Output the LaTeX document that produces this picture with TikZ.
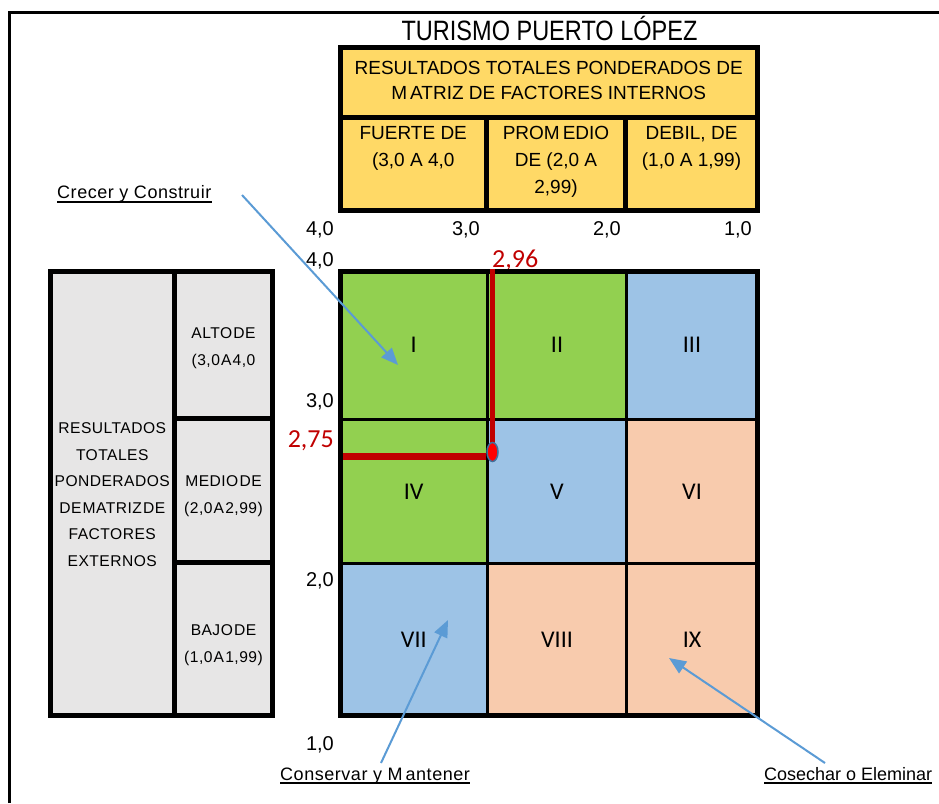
\documentclass[tikz,border=0pt]{standalone}
\usepackage{fontspec}
\setmainfont{Liberation Sans}
\newfontfamily\narrowfont[FakeStretch=0.84]{Liberation Sans}
\newfontfamily\spacedfont[LetterSpace=3]{Liberation Sans}
\newfontfamily\calfont{Carlito}
\usetikzlibrary{arrows.meta,shapes.geometric}
\definecolor{cgreen}{HTML}{92D050}
\definecolor{cblue}{HTML}{9DC3E6}
\definecolor{cpeach}{HTML}{F8CBAD}
\definecolor{cyellow}{HTML}{FFD966}
\definecolor{cgrey}{HTML}{E7E6E6}
\definecolor{cred}{HTML}{C00000}
\definecolor{carrow}{HTML}{5B9BD5}
\definecolor{cedge}{HTML}{41719C}
\newcommand\tsp{\kern3pt}
\newcommand\tsq{\kern1.2pt}
\begin{document}
\begin{tikzpicture}[x=1pt,y=-1pt,
  thickline/.style={line width=5pt},
  thinline/.style={line width=3pt},
  cellbox/.style={inner sep=0, font=\calfont\fontsize{24}{28}\selectfont},
  hdrtext/.style={align=center, inner sep=0, font=\fontsize{19}{25}\selectfont},
  subtext/.style={align=center, inner sep=0, font=\fontsize{19}{27}\selectfont},
  lefttext/.style={align=center, inner sep=0, font=\spacedfont\fontsize{15.6}{26.5}\selectfont},
  axisnum/.style={anchor=base east, inner sep=0, font=\fontsize{20}{22}\selectfont},
  rednum/.style={inner sep=0, text=cred, font=\calfont\fontsize{26}{28}\selectfont},
  bluearrow/.style={draw=carrow, fill=carrow, line width=2pt, -{Triangle[length=17pt,width=14pt]}},
  ullabel/.style={anchor=base west, inner sep=0, font=\spacedfont\fontsize{18}{22}\selectfont}
]
\useasboundingbox (0,0) rectangle (939,803);

% outer frame
\draw[line width=3pt] (9.5,803) -- (9.5,12.5) -- (939,12.5);

% title
\node[anchor=base, inner sep=0, font=\narrowfont\fontsize{28}{30}\selectfont] (title) at (549.5,40) {TURISMO PUERTO LÓPEZ};

% top table
\fill[cyellow] (340,47.5) rectangle (757.5,210.5);
\node[hdrtext] (hdr) at (548.75,80.8) {RESULTADOS TOTALES PONDERADOS DE\\M\tsp ATRIZ DE FACTORES INTERNOS};
\node[subtext] (fuerte) at (413.25,148.5) {FUERTE DE\\(3,0 A 4,0};
\node[subtext] (prom) at (556,162) {PROM\tsp EDIO\\DE (2,0 A\\2,99)};
\node[subtext] (debil) at (691.5,148.5) {DEBIL, DE\\(1,0 A 1,99)};
\draw[thickline] (340,47.5) rectangle (757.5,210.5);
\draw[thickline] (340,117.5) -- (757.5,117.5);
\draw[thickline] (486.5,117.5) -- (486.5,210.5);
\draw[thickline] (625.5,117.5) -- (625.5,210.5);

% axis numbers (top)
\node[axisnum] (t40) at (334,235) {4,0};
\node[axisnum] (t30) at (480,235) {3,0};
\node[axisnum] (t20) at (621,235) {2,0};
\node[axisnum] (t10) at (752,235) {1,0};

% axis numbers (left)
\node[axisnum] (l40) at (334,266) {4,0};
\node[axisnum] (l30) at (334,407) {3,0};
\node[axisnum] (l20) at (334,586) {2,0};
\node[axisnum] (l10) at (334,750) {1,0};
\node[rednum, anchor=base east] (r275) at (334,447) {2,75};
\node[rednum, anchor=base west] (r296) at (492,267) {2,96};

% left table
\fill[cgrey] (50,271) rectangle (272.5,715.5);
\node[lefttext] (ext) at (112.25,494.5) {RESULTADOS\\TOTALES\\PONDERADOS\\DE\tsq MATRIZ\tsq DE\\FACTORES\\EXTERNOS};
\node[lefttext] (alto) at (223.5,348) {ALTO\tsq DE\\(3,0\tsq A\tsq 4,0};
\node[lefttext] (medio) at (223.5,496) {MEDIO\tsq DE\\(2,0\tsq A\tsq 2,99)};
\node[lefttext] (bajo) at (223.5,645) {BAJO\tsq DE\\(1,0\tsq A\tsq 1,99)};
\draw[thickline] (50,271) rectangle (272.5,715.5);
\draw[thickline] (174.5,271) -- (174.5,715.5);
\draw[thickline] (174.5,418.5) -- (272.5,418.5);
\draw[thickline] (174.5,562.5) -- (272.5,562.5);

% grid cells
\node[cellbox, fill=cgreen, minimum width=147.5pt, minimum height=148.5pt] (c1) at (413.75,345.25) {I};
\node[cellbox, fill=cgreen, minimum width=139pt, minimum height=148.5pt] (c2) at (557,345.25) {II};
\node[cellbox, fill=cblue, minimum width=131pt, minimum height=148.5pt] (c3) at (692,345.25) {III};
\node[cellbox, fill=cgreen, minimum width=147.5pt, minimum height=144pt] (c4) at (413.75,491.5) {IV};
\node[cellbox, fill=cblue, minimum width=139pt, minimum height=144pt] (c5) at (557,491.5) {V};
\node[cellbox, fill=cpeach, minimum width=131pt, minimum height=144pt] (c6) at (692,491.5) {VI};
\node[cellbox, fill=cblue, minimum width=147.5pt, minimum height=152pt] (c7) at (413.75,639.5) {VII};
\node[cellbox, fill=cpeach, minimum width=139pt, minimum height=152pt] (c8) at (557,639.5) {VIII};
\node[cellbox, fill=cpeach, minimum width=131pt, minimum height=152pt] (c9) at (692,639.5) {IX};
\draw[thinline] (487.5,271) -- (487.5,715.5);
\draw[thinline] (626.5,271) -- (626.5,715.5);
\draw[thinline] (340,419.5) -- (757.5,419.5);
\draw[thinline] (340,563.5) -- (757.5,563.5);
\draw[thickline] (340,271) rectangle (757.5,715.5);

% red position lines
\draw[cred, line width=7pt] (342.5,456.5) -- (486,456.5);
\draw[cred, line width=5pt] (492.5,269) -- (492.5,452);
\node[ellipse, fill=red, draw=cedge, line width=1.5pt, minimum width=11pt, minimum height=19pt, inner sep=0] (pt) at (492.5,452) {};

% labels and arrows
\node[ullabel] (lab1) at (57,198.5) {Crecer y Construir};
\node[ullabel] (lab2) at (280,780) {Conservar y M\tsp antener};
\node[ullabel, font=\fontsize{18}{22}\selectfont] (lab3) at (764,780) {Cosechar o Eleminar};
\draw[line width=1.3pt] ([yshift=-3.5pt]lab1.base west) -- ([yshift=-3.5pt]lab1.base east);
\draw[line width=1.3pt] ([yshift=-3pt]lab2.base west) -- ([yshift=-3pt]lab2.base east);
\draw[line width=1.3pt] ([yshift=-3pt]lab3.base west) -- ([yshift=-3pt]lab3.base east);

\coordinate (a1s) at (242,195);
\coordinate (a1e) at (398,365);
\coordinate (a2s) at (381,763);
\coordinate (a2e) at (448,620);
\coordinate (a3s) at (825,763);
\coordinate (a3e) at (669,658);
\draw[bluearrow] (a1s) -- (a1e);
\draw[bluearrow] (a2s) -- (a2e);
\draw[bluearrow] (a3s) -- (a3e);
\end{tikzpicture}
\end{document}
